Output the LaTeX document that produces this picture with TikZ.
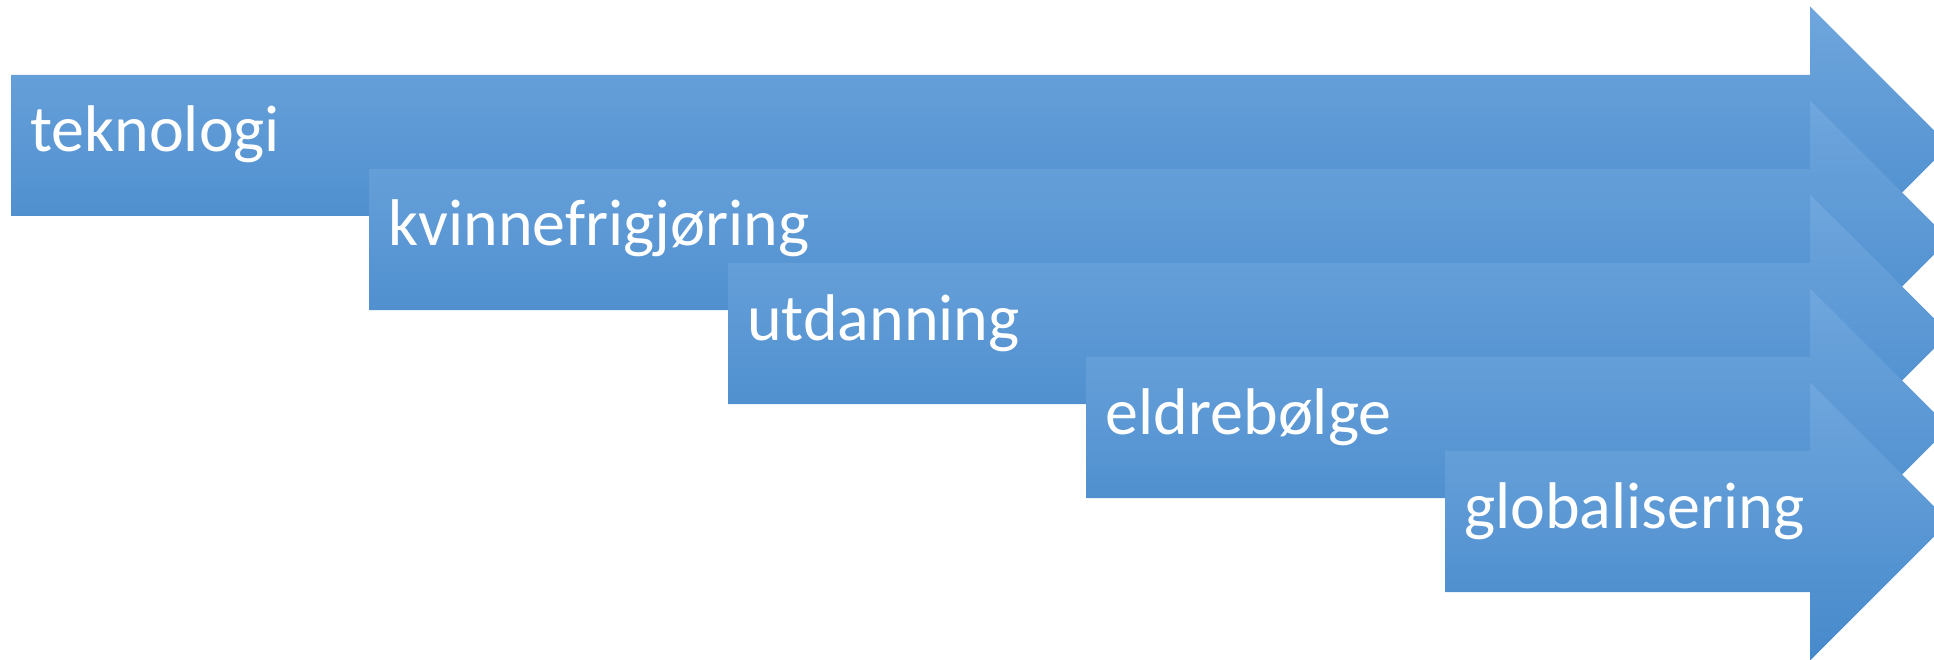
\documentclass[tikz,border=0pt]{standalone}
\usepackage{fontspec}
\setmainfont{Carlito}
\definecolor{gtop}{HTML}{6FA6DD}
\definecolor{gmid}{HTML}{5A9BD9}
\definecolor{gbot}{HTML}{4689CB}
\tikzset{
  arrowshade/.style={top color=gtop, middle color=gmid, bottom color=gbot, draw=none},
  arrowlabel/.style={anchor=base west, inner sep=0pt, text=white, font=\fontsize{66pt}{70pt}\selectfont}
}
\begin{document}
\begin{tikzpicture}[x=1pt,y=-1pt]
\useasboundingbox (0,0) rectangle (1934,660);
\clip (0,0) rectangle (1934,660);
\foreach \i/\txt in {0/teknologi,1/kvinnefrigjøring,2/utdanning,3/eldrebølge,4/globalisering}{
  \pgfmathsetmacro{\myXl}{11+358.5*\i}
  \pgfmathsetmacro{\myYt}{75+94*\i}
  \pgfmathsetmacro{\myYb}{216+94*\i}
  \pgfmathsetmacro{\myYc}{145.5+94*\i}
  \pgfmathsetmacro{\myHt}{\myYc-139}
  \pgfmathsetmacro{\myHb}{\myYc+139}
  \pgfmathsetmacro{\myTx}{\myXl+19}
  \pgfmathsetmacro{\myTy}{\myYt+77}
  \shade[arrowshade] (\myXl,\myYt) -- (1810,\myYt) -- (1810,\myHt) -- (1949,\myYc) -- (1810,\myHb) -- (1810,\myYb) -- (\myXl,\myYb) -- cycle;
  \node[arrowlabel] (t\i) at (\myTx,\myTy) {\txt};
}
\end{tikzpicture}
\end{document}
